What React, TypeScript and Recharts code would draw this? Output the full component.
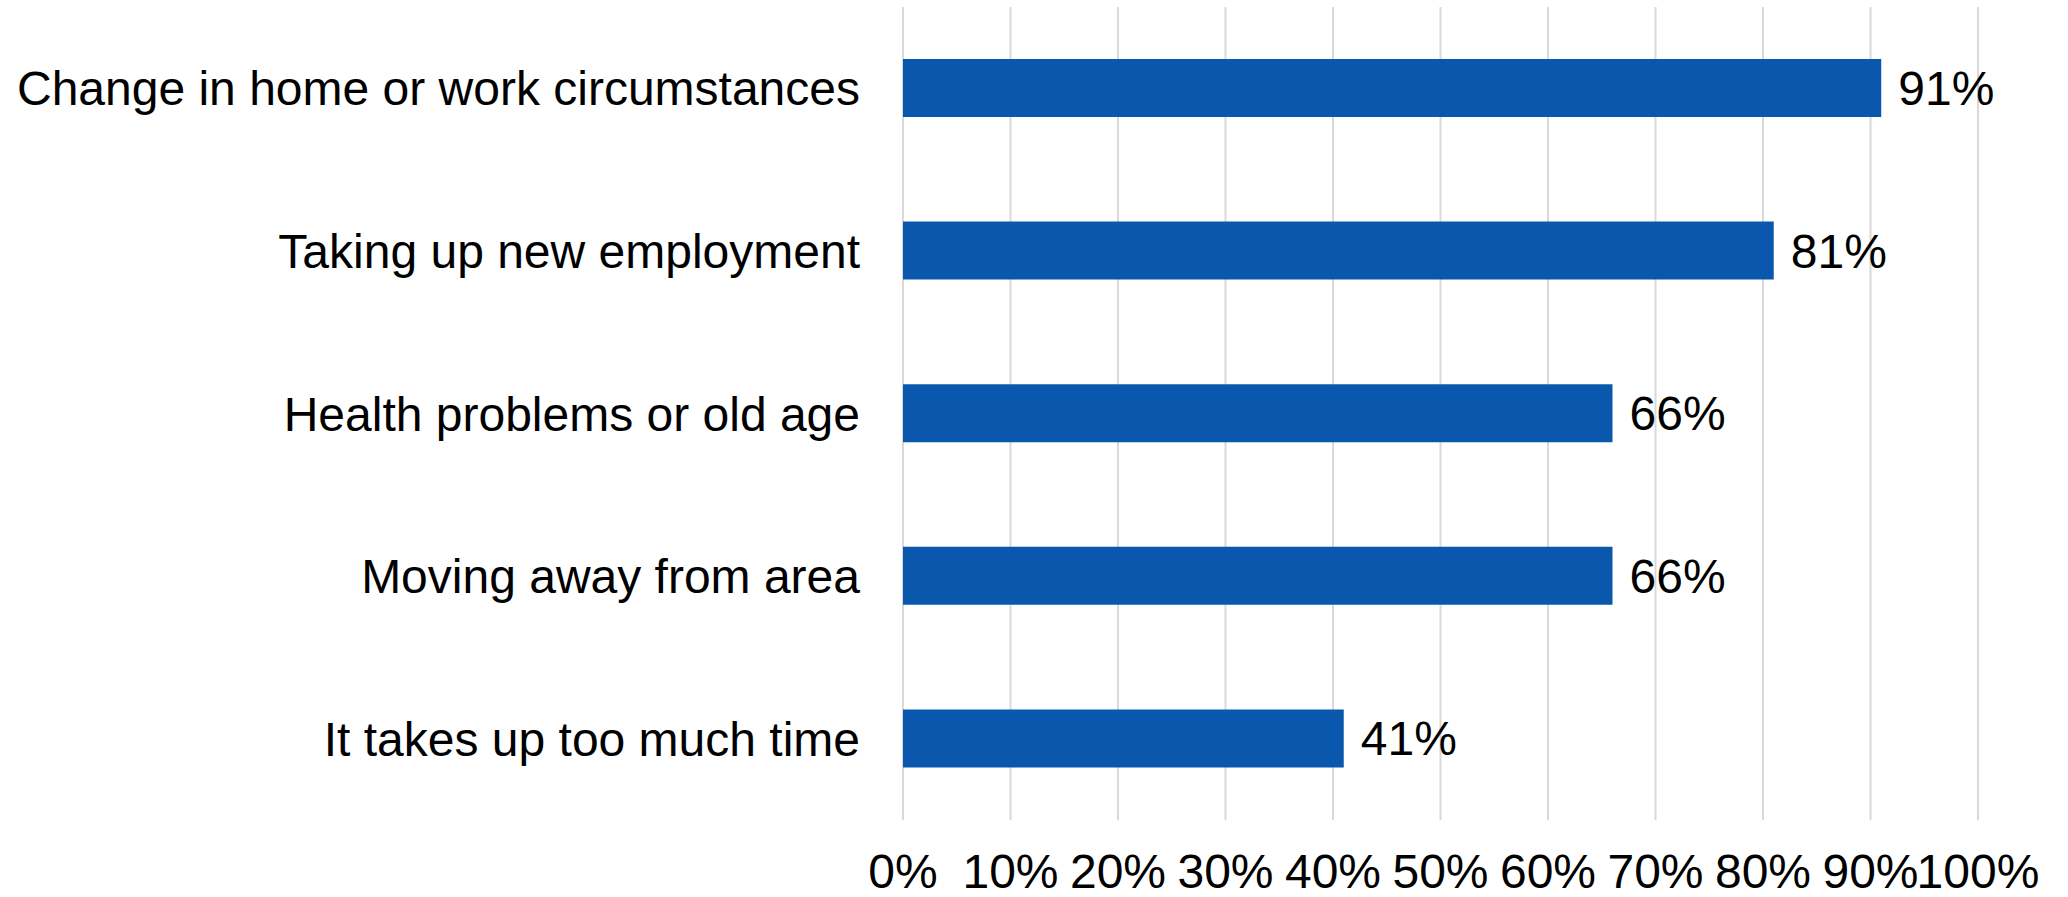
import React from "react";
import { BarChart, Bar, XAxis, YAxis, CartesianGrid, LabelList } from "recharts";

const categories = [
  "Change in home or work circumstances",
  "Taking up new employment",
  "Health problems or old age",
  "Moving away from area",
  "It takes up too much time",
];
const values = [91, 81, 66, 66, 41];
const xTicks = [0, 10, 20, 30, 40, 50, 60, 70, 80, 90, 100];

const data = categories.map((name, i) => ({ name, value: values[i] }));

const FONT = "'Liberation Sans', Arial, sans-serif";

export default function App() {
  return (
    <div style={{ position: "absolute", left: 0, top: 0, width: 2068, height: 897, background: "#fff" }}>
      <BarChart
        width={2068}
        height={897}
        data={data}
        layout="vertical"
        margin={{ top: 7, right: 90, bottom: 0, left: 0 }}
        barSize={58}
      >
        <CartesianGrid horizontal={false} stroke="#d9d9d9" strokeWidth={2} />
        <XAxis
          type="number"
          domain={[0, 100]}
          ticks={xTicks}
          interval={0}
          tickFormatter={(v: number) => `${v}%`}
          axisLine={false}
          tickLine={false}
          tickSize={0}
          tickMargin={34}
          height={77}
          tick={{ fontSize: 48, fill: "#000", fontFamily: FONT }}
        />
        <YAxis
          type="category"
          dataKey="name"
          width={903}
          axisLine={false}
          tickLine={false}
          tickSize={0}
          tickMargin={43}
          interval={0}
          tick={{ fontSize: 48, fill: "#000", fontFamily: FONT }}
        />
        <Bar dataKey="value" fill="#0a58ad" isAnimationActive={false}>
          <LabelList
            dataKey="value"
            position="right"
            offset={17}
            formatter={(v: number) => `${v}%`}
            style={{ fontSize: 48, fill: "#000", fontFamily: FONT }}
          />
        </Bar>
      </BarChart>
    </div>
  );
}
